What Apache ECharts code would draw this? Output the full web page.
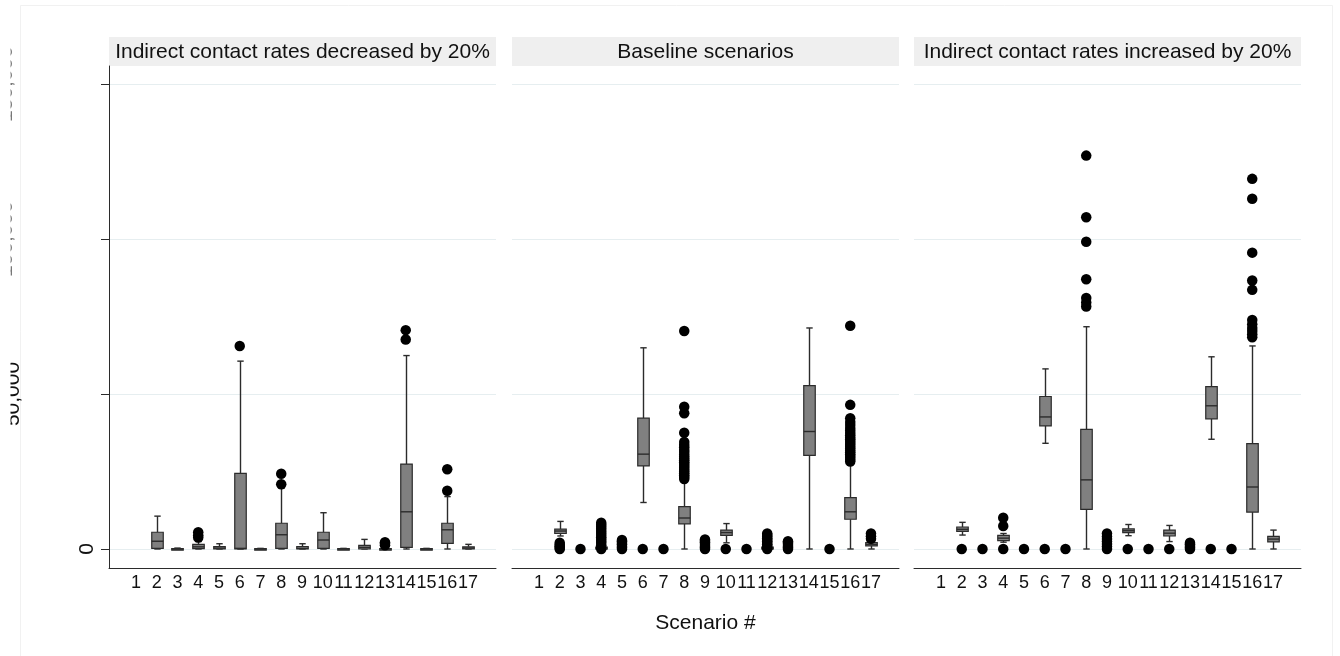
<!DOCTYPE html>
<html><head><meta charset="utf-8">
<script src="https://cdn.jsdelivr.net/npm/echarts@6/dist/echarts.min.js"></script>
<style>html,body{margin:0;padding:0;background:#fff}#c{width:1340px;height:656px}</style>
</head><body><div id="c"></div>
<script>
// ---------------- data ----------------
const scenarios = [1,2,3,4,5,6,7,8,9,10,11,12,13,14,15,16,17];
const panelTitles = ['Indirect contact rates decreased by 20%', 'Baseline scenarios', 'Indirect contact rates increased by 20%'];
const xAxisTitle = 'Scenario #';
const yTickValues = [0, 50000, 100000, 150000];

// box stats: [scenario, lower whisker, Q1, median, Q3, upper whisker]
const boxDecreased = [
  [2, 0, 200, 2500, 5400, 10600],
  [3, 0, 0, 0, 100, 300],
  [4, 0, 100, 700, 1500, 2400],
  [5, 0, 0, 300, 800, 1700],
  [6, 0, 0, 200, 24400, 60600],
  [7, 0, 0, 0, 100, 200],
  [8, 0, 200, 4600, 8300, 19600],
  [9, 0, 0, 200, 800, 1700],
  [10, 0, 200, 2900, 5400, 11700],
  [11, 0, 0, 0, 100, 200],
  [12, 0, 0, 500, 1200, 3100],
  [13, 0, 0, 0, 100, 400],
  [14, 0, 500, 12000, 27400, 62400],
  [15, 0, 0, 0, 100, 200],
  [16, 0, 1800, 6200, 8300, 16900],
  [17, 0, 0, 300, 700, 1500]
];
// outside values: [scenario, [values]]
const outDecreased = [
  [4, [3700, 4400, 5400]],
  [6, [65500]],
  [8, [20900, 24300]],
  [13, [1200, 1800, 2200]],
  [14, [67600, 70600]],
  [16, [18800, 25700]]
];

const boxBaseline = [
  [2, 4200, 5000, 5800, 6400, 8900],
  [4, 0, 0, 0, 600, 1700],
  [6, 15000, 26800, 30600, 42200, 64900],
  [8, 0, 8100, 10000, 13700, 22300],
  [10, 2000, 4400, 5300, 6100, 8200],
  [12, 0, 0, 0, 600, 1700],
  [14, 0, 30200, 37900, 52700, 71300],
  [16, 0, 9600, 12000, 16600, 27600],
  [17, 0, 1000, 1500, 2100, 2900]
];
const outBaseline = [
  [2, [0, 400, 900, 1400, 2000]],
  [3, [0]],
  [4, [0, 600, 1200, 2000, 2600, 3200, 3800, 4500, 5200, 5800, 6500, 7200, 7800, 8500]],
  [5, [0, 500, 1000, 1500, 2000, 2500, 2900]],
  [6, [0]],
  [7, [0]],
  [8, [22600, 23200, 23800, 24400, 25000, 25600, 26200, 26800, 27400, 28000, 28600, 29200, 29800, 30500, 31300, 32000, 32800, 33600, 34500, 37500, 43800, 45900, 70300]],
  [9, [0, 500, 1000, 1600, 2200, 2700, 3100]],
  [10, [0]],
  [11, [0]],
  [12, [0, 500, 1000, 1500, 2000, 2500, 3000, 3500, 4000, 4500, 5000]],
  [13, [0, 500, 1000, 1600, 2100, 2500]],
  [15, [0]],
  [16, [28200, 28800, 29400, 30000, 30600, 31200, 31800, 32400, 33000, 33600, 34200, 34800, 35400, 36000, 36700, 37400, 38200, 39000, 40000, 41000, 42200, 46500, 72000]],
  [17, [3300, 4100, 5000]]
];

const boxIncreased = [
  [2, 4500, 5700, 6350, 7100, 8600],
  [4, 2200, 2700, 3500, 4400, 5000],
  [6, 34100, 39700, 42600, 49200, 58100],
  [8, 0, 12800, 22300, 38600, 71700],
  [10, 4300, 5300, 5900, 6500, 7900],
  [12, 2400, 4200, 5100, 6100, 7600],
  [14, 35400, 42000, 46200, 52400, 62000],
  [16, 0, 11900, 20000, 34000, 65500],
  [17, 0, 2300, 3200, 4100, 6100]
];
const outIncreased = [
  [2, [0]], [3, [0]], [4, [0, 7400, 10100]], [5, [0]], [6, [0]], [7, [0]],
  [8, [78200, 79500, 81000, 87000, 99100, 107000, 126900]],
  [9, [0, 800, 1600, 2400, 3200, 4000, 5000]],
  [10, [0]], [11, [0]], [12, [0]], [13, [0, 500, 1000, 1500, 2000]], [14, [0]], [15, [0]],
  [16, [68300, 69300, 70300, 71300, 72500, 73900, 83600, 86600, 95600, 113000, 119400]]
];

// ---------------- layout / style ----------------
const FONT = '"Liberation Sans", Arial, Helvetica, sans-serif';
const Y_MIN = -6129, Y_MAX = 155806;
const X_MIN = -0.3, X_MAX = 18.35;
const gridLefts = [109, 512, 914];
const GRID_TOP = 66, GRID_W = 387, GRID_H = 502;
const STRIP_TOP = 37, STRIP_H = 29;
const AXIS_COLOR = '#2b2b2b';
const GRID_COLOR = '#e6eef0';

const boxSets = [boxDecreased, boxBaseline, boxIncreased];
const outSets = [outDecreased, outBaseline, outIncreased];

const fmt = v => Number(v).toLocaleString('en-US');

function renderBox(params, api) {
  const x = api.value(0);
  const pMin = api.coord([x, api.value(1)]);
  const pQ1 = api.coord([x, api.value(2)]);
  const pMed = api.coord([x, api.value(3)]);
  const pQ3 = api.coord([x, api.value(4)]);
  const pMax = api.coord([x, api.value(5)]);
  const cx = Math.round(pMed[0]) + 0.5;
  const hw = 5.75, cw = 3.2;
  const ls = { stroke: AXIS_COLOR, lineWidth: 1.4, fill: null };
  return {
    type: 'group',
    children: [
      { type: 'line', shape: { x1: cx, y1: pQ3[1], x2: cx, y2: pMax[1] }, style: ls },
      { type: 'line', shape: { x1: cx - cw, y1: pMax[1], x2: cx + cw, y2: pMax[1] }, style: ls },
      { type: 'line', shape: { x1: cx, y1: pQ1[1], x2: cx, y2: pMin[1] }, style: ls },
      { type: 'line', shape: { x1: cx - cw, y1: pMin[1], x2: cx + cw, y2: pMin[1] }, style: ls },
      { type: 'rect', shape: { x: cx - hw, y: pQ3[1], width: hw * 2, height: Math.max(pQ1[1] - pQ3[1], 1.5) },
        style: { fill: '#808080', stroke: AXIS_COLOR, lineWidth: 1.2 } },
      { type: 'line', shape: { x1: cx - hw, y1: pMed[1], x2: cx + hw, y2: pMed[1] }, style: ls }
    ]
  };
}

const grids = gridLefts.map(l => ({ left: l, top: GRID_TOP, width: GRID_W, height: GRID_H, outerBoundsMode: 'none', containLabel: false }));

const xAxes = gridLefts.map((l, i) => ({
  type: 'value', gridIndex: i, min: X_MIN, max: X_MAX,
  axisLine: { show: true, onZero: false, lineStyle: { color: AXIS_COLOR, width: 1 } },
  axisTick: { show: false },
  splitLine: { show: false },
  axisLabel: { customValues: scenarios, fontSize: 18, color: '#111', margin: 6, fontFamily: FONT },
  name: i === 1 ? xAxisTitle : '',
  nameLocation: 'middle', nameGap: 45,
  nameTextStyle: { fontSize: 21, color: '#111', fontFamily: FONT }
}));

const yAxes = gridLefts.map((l, i) => ({
  type: 'value', gridIndex: i, min: Y_MIN, max: Y_MAX, position: 'left',
  axisLine: { show: i === 0, onZero: false, lineStyle: { color: AXIS_COLOR, width: 1 } },
  axisTick: { show: i === 0, length: 8, customValues: yTickValues, lineStyle: { color: AXIS_COLOR } },
  axisLabel: { show: i === 0, customValues: [0], rotate: 90, margin: 11, fontSize: 21, color: '#111', formatter: fmt, fontFamily: FONT },
  splitLine: { show: true, lineStyle: { color: GRID_COLOR, width: 1 } }
}));
// extra label-only axes on the first panel (labels partly pushed off the page, as in the reference)
[[yTickValues.slice(1, 2), 85.5, '#111'], [yTickValues.slice(2), 92.5, '#777']].forEach(([vals, m, c]) => {
  yAxes.push({
    type: 'value', gridIndex: 0, min: Y_MIN, max: Y_MAX, position: 'left',
    axisLine: { show: false, onZero: false }, axisTick: { show: false }, splitLine: { show: false },
    axisLabel: { customValues: vals, rotate: 90, margin: m, fontSize: 21, color: c, formatter: fmt, fontFamily: FONT }
  });
});

const series = [];
boxSets.forEach((b, i) => {
  series.push({
    type: 'custom', xAxisIndex: i, yAxisIndex: i, renderItem: renderBox, clip: false,
    encode: { x: 0, y: [1, 2, 3, 4, 5] }, data: b, z: 2, silent: true
  });
});
outSets.forEach((o, i) => {
  series.push({
    type: 'scatter', xAxisIndex: i, yAxisIndex: i, symbol: 'circle', symbolSize: 10.5,
    itemStyle: { color: '#000', opacity: 1 }, z: 3, silent: true,
    data: o.flatMap(([s, vals]) => vals.map(v => [s, v]))
  });
});

const graphics = [
  { type: 'rect', shape: { x: 20.5, y: 5.5, width: 1312, height: 700 }, style: { fill: null, stroke: '#f1f1f1', lineWidth: 1 }, z: -1, silent: true }
];
gridLefts.forEach((l, i) => {
  graphics.push({ type: 'rect', shape: { x: l, y: STRIP_TOP, width: GRID_W, height: STRIP_H }, style: { fill: '#efefef' }, silent: true });
  graphics.push({ type: 'text', x: l + GRID_W / 2, y: STRIP_TOP + STRIP_H / 2 + 0.5,
    style: { text: panelTitles[i], fontSize: 21, fontFamily: FONT, fill: '#111', align: 'center', verticalAlign: 'middle' }, silent: true });
});
graphics.push({ type: 'rect', shape: { x: 0, y: 0, width: 10.5, height: 656 }, style: { fill: '#fff' }, z: 100, silent: true });

const chart = echarts.init(document.getElementById('c'), null, { renderer: 'canvas' });
chart.setOption({
  animation: false,
  backgroundColor: '#fff',
  textStyle: { fontFamily: FONT },
  grid: grids,
  xAxis: xAxes,
  yAxis: yAxes,
  series: series,
  graphic: { elements: graphics }
});
</script></body></html>
